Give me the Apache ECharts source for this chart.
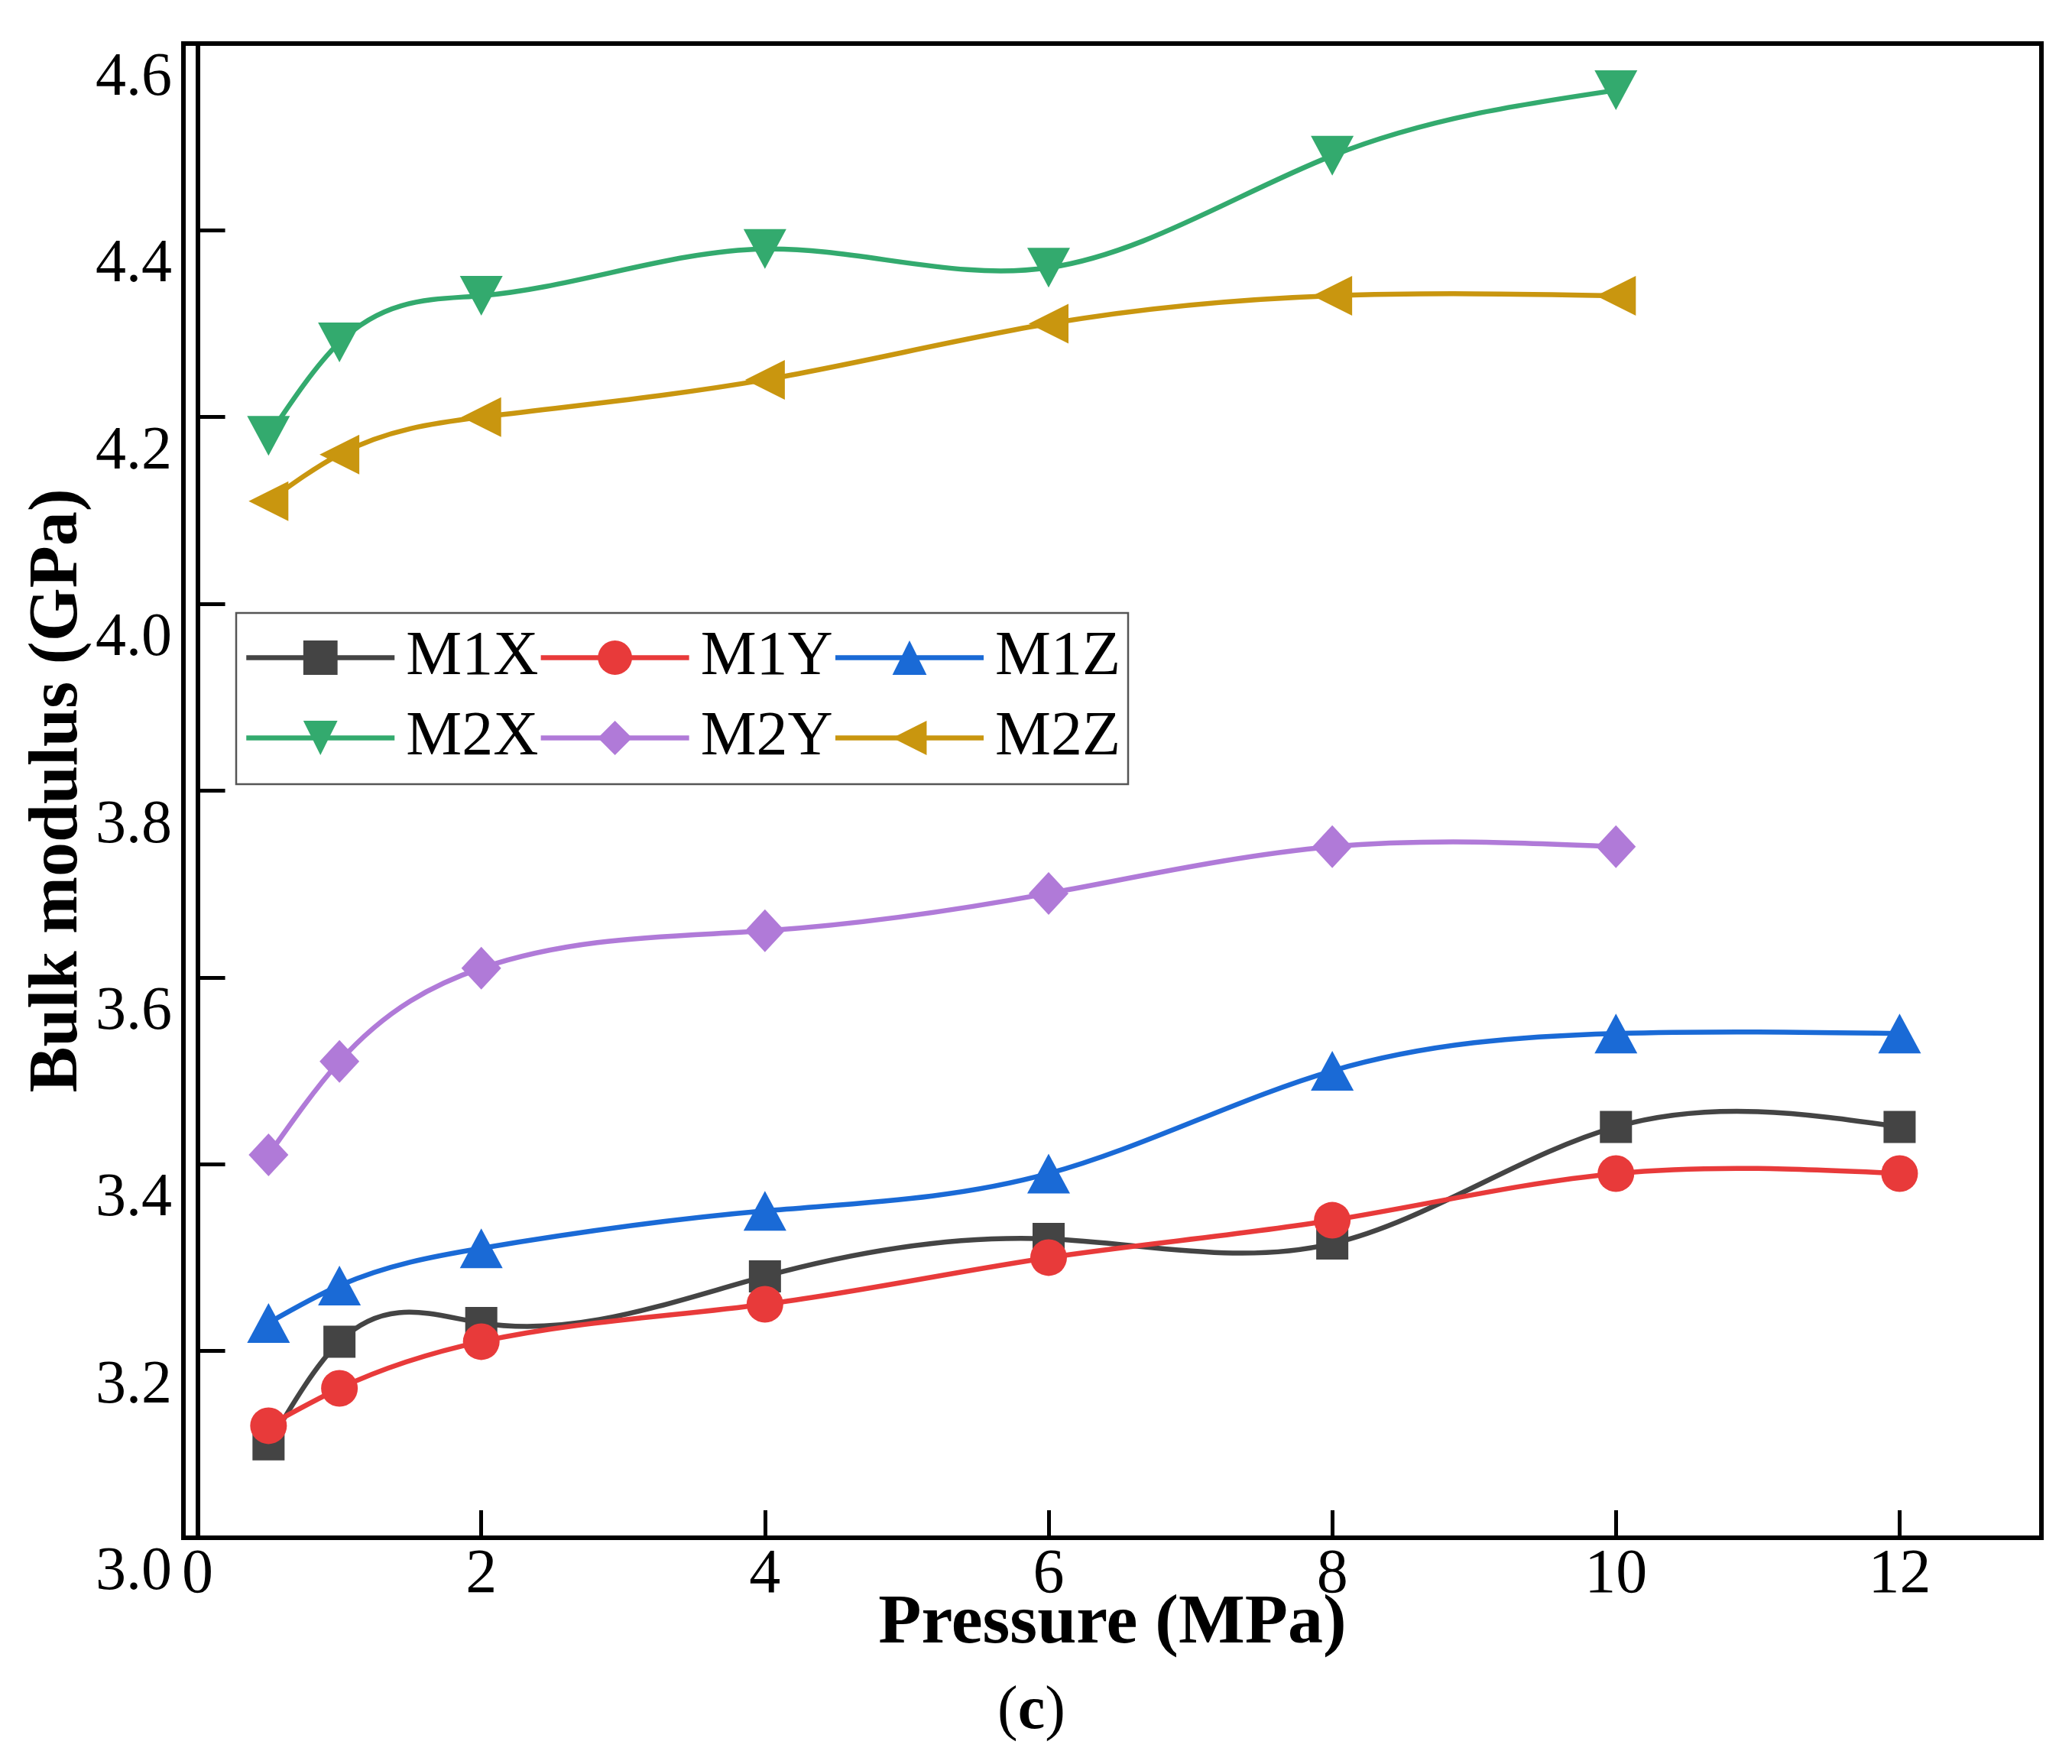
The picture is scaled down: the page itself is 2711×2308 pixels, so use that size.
<!DOCTYPE html>
<html>
<head>
<meta charset="utf-8">
<script src="https://cdn.jsdelivr.net/npm/echarts@6/dist/echarts.min.js"></script>
<style>
  html, body { margin: 0; padding: 0; background: #fff; }
  #chart { width: 2711px; height: 2308px; }
</style>
</head>
<body>
<div id="chart"></div>
<script>
// pressure (MPa)
var pressure = [0.5, 1, 2, 4, 6, 8, 10, 12];
var xTicks = [0, 2, 4, 6, 8, 10, 12];

// bulk modulus (GPa)
var m1x = [3.10, 3.21, 3.23, 3.28, 3.32, 3.315, 3.44, 3.44];
var m1y = [3.12, 3.16, 3.21, 3.25, 3.30, 3.34, 3.39, 3.39];
var m1z = [3.23, 3.27, 3.31, 3.35, 3.39, 3.50, 3.54, 3.54];
var m2x = [4.18, 4.28, 4.33, 4.38, 4.36, 4.48, 4.55];
var m2y = [3.41, 3.51, 3.61, 3.65, 3.69, 3.74, 3.74];
var m2z = [4.11, 4.16, 4.20, 4.24, 4.30, 4.33, 4.33];

var serif = '"Liberation Serif", "Times New Roman", serif';
var LW = 6.5;

function pairs(ys) {
    return ys.map(function (v, i) { return [pressure[i], v]; });
}

// second derivatives of a natural cubic spline through the points
function splineM(xs, ys) {
    var n = xs.length, h = [], a = [], b = [], c = [], r = [], m = [];
    for (var i = 0; i < n - 1; i++) h[i] = xs[i + 1] - xs[i];
    for (i = 1; i < n - 1; i++) {
        a[i] = h[i - 1];
        b[i] = 2 * (h[i - 1] + h[i]);
        c[i] = h[i];
        r[i] = 6 * ((ys[i + 1] - ys[i]) / h[i] - (ys[i] - ys[i - 1]) / h[i - 1]);
    }
    // thomas
    for (i = 2; i < n - 1; i++) {
        var w = a[i] / b[i - 1];
        b[i] -= w * c[i - 1];
        r[i] -= w * r[i - 1];
    }
    m[0] = 0; m[n - 1] = 0;
    for (i = n - 2; i >= 1; i--) {
        m[i] = (r[i] - (i < n - 2 ? c[i] * m[i + 1] : 0)) / b[i];
    }
    return m;
}

// spline curve, each segment drawn as the exact bezier of the cubic piece
function curve(name, ys, color) {
    var xs = pressure.slice(0, ys.length);
    var m = splineM(xs, ys);
    return {
        name: name + ' curve',
        type: 'custom',
        silent: true,
        z: 1,
        data: pairs(ys),
        renderItem: function (params, api) {
            var i = params.dataIndex;
            if (i >= ys.length - 1) return null;
            var h = xs[i + 1] - xs[i];
            var s = (ys[i + 1] - ys[i]) / h;
            var d0 = s - h * (2 * m[i] + m[i + 1]) / 6;
            var d1 = s + h * (m[i] + 2 * m[i + 1]) / 6;
            var p0 = api.coord([xs[i], ys[i]]);
            var p1 = api.coord([xs[i + 1], ys[i + 1]]);
            var c0 = api.coord([xs[i] + h / 3, ys[i] + d0 * h / 3]);
            var c1 = api.coord([xs[i + 1] - h / 3, ys[i + 1] - d1 * h / 3]);
            return {
                type: 'bezierCurve',
                shape: {
                    x1: p0[0], y1: p0[1], x2: p1[0], y2: p1[1],
                    cpx1: c0[0], cpy1: c0[1], cpx2: c1[0], cpy2: c1[1]
                },
                style: { stroke: color, lineWidth: LW, fill: 'none' }
            };
        }
    };
}

// markers (and legend entry); the connecting line is the spline above
function marks(name, ys, color, symbol, size, rotate) {
    return {
        name: name,
        type: 'line',
        data: pairs(ys),
        symbol: symbol,
        symbolSize: size,
        symbolRotate: rotate || 0,
        showAllSymbol: true,
        z: 3,
        lineStyle: { color: color, width: LW, opacity: 0 },
        itemStyle: { color: color, borderWidth: 0 }
    };
}

var colors = {
    M1X: '#444444', M1Y: '#e83a3a', M1Z: '#1a6ad6',
    M2X: '#33aa6e', M2Y: '#b07ad8', M2Z: '#c9960f'
};

var chart = echarts.init(document.getElementById('chart'));
chart.setOption({
    animation: false,
    backgroundColor: '#fff',
    grid: {
        left: 240, right: 40, top: 57, bottom: 296,
        outerBoundsMode: 'none',
        containLabel: false,
        show: true, borderColor: '#000', borderWidth: 6
    },
    legend: {
        left: 309, top: 802, width: 1160,
        orient: 'horizontal',
        padding: [6, 10, 8, 10],
        itemWidth: 194, itemHeight: 56, itemGap: 0,
        borderColor: '#555', borderWidth: 2.5,
        lineStyle: { color: 'inherit', width: LW, opacity: 1 },
        textStyle: {
            fontFamily: serif, fontSize: 82, color: '#000',
            lineHeight: 105, padding: [0, 0, 0, 10]
        },
        data: ['M1X', 'M1Y', 'M1Z', 'M2X', 'M2Y', 'M2Z']
    },
    xAxis: {
        type: 'value', min: -0.1, max: 13,
        name: 'Pressure (MPa)', nameLocation: 'middle', nameGap: 67,
        nameMoveOverlap: false,
        nameTextStyle: { fontFamily: serif, fontSize: 92, fontWeight: 'bold', color: '#000' },
        axisLine: { lineStyle: { color: '#000', width: 6 } },
        axisTick: { inside: true, length: 36, customValues: xTicks, lineStyle: { color: '#000', width: 5 } },
        axisLabel: { margin: 8, customValues: xTicks, fontFamily: serif, fontSize: 82, color: '#000' },
        splitLine: { show: false }
    },
    yAxis: {
        type: 'value', min: 3.0, max: 4.6, interval: 0.2,
        name: 'Bulk modulus (GPa)', nameLocation: 'middle', nameGap: 118,
        nameMoveOverlap: false,
        nameTextStyle: { fontFamily: serif, fontSize: 90, fontWeight: 'bold', color: '#000' },
        axisLine: { lineStyle: { color: '#000', width: 6 } },
        axisTick: { inside: true, length: 36, lineStyle: { color: '#000', width: 5 } },
        axisLabel: {
            margin: 15, fontFamily: serif, fontSize: 80, color: '#000',
            verticalAlign: 'top', padding: [6, 0, 0, 0],
            formatter: function (v) { return v.toFixed(1); }
        },
        splitLine: { show: false }
    },
    graphic: [{
        type: 'text',
        left: 1305, top: 2200,
        style: {
            text: '{p|(}{c|c}{p|)}',
            rich: {
                p: { fontFamily: serif, fontSize: 80, color: '#000' },
                c: { fontFamily: serif, fontSize: 80, fontWeight: 'bold', color: '#000' }
            }
        }
    }],
    series: [
        curve('M1X', m1x, colors.M1X),
        curve('M1Y', m1y, colors.M1Y),
        curve('M1Z', m1z, colors.M1Z),
        curve('M2X', m2x, colors.M2X),
        curve('M2Y', m2y, colors.M2Y),
        curve('M2Z', m2z, colors.M2Z),
        marks('M1X', m1x, colors.M1X, 'rect', 42),
        marks('M1Y', m1y, colors.M1Y, 'circle', 48),
        marks('M1Z', m1z, colors.M1Z, 'triangle', [56, 52]),
        marks('M2X', m2x, colors.M2X, 'triangle', [56, 52], 180),
        marks('M2Y', m2y, colors.M2Y, 'diamond', [52, 56]),
        marks('M2Z', m2z, colors.M2Z, 'triangle', [52, 52], 90)
    ]
});
</script>
</body>
</html>
